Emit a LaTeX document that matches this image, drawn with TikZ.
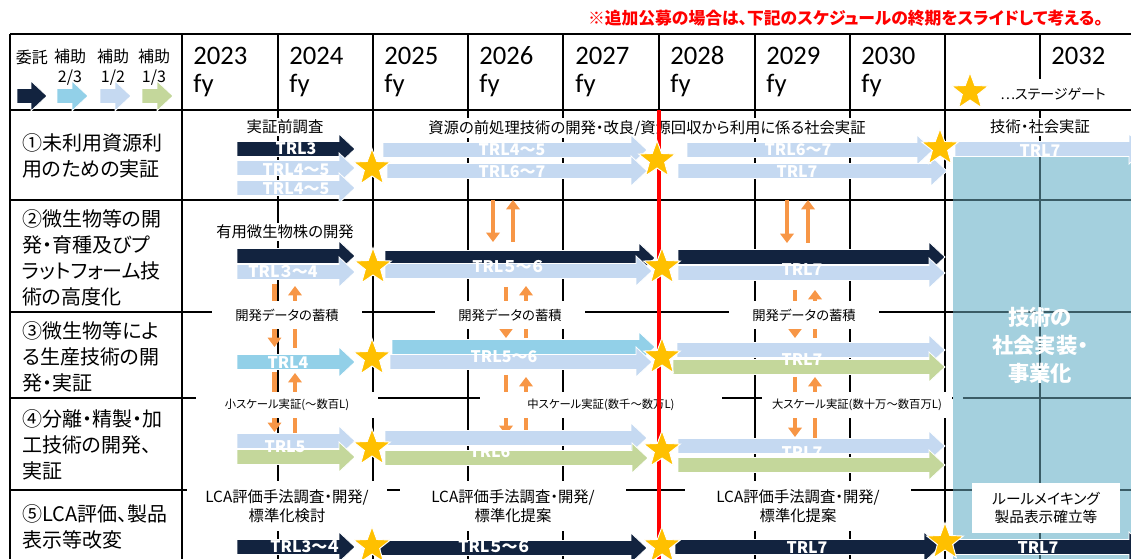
\documentclass[tikz,border=0pt]{standalone}
\usepackage{fontspec}
\setmainfont{Carlito}
\newfontfamily\jpfont[RawFeature=+palt]{Noto Sans CJK JP}
\usetikzlibrary{shapes.geometric,arrows.meta}

\definecolor{navy}{RGB}{18,35,63}
\definecolor{skyb}{RGB}{146,208,232}
\definecolor{paleb}{RGB}{197,217,241}
\definecolor{leaf}{RGB}{196,215,155}
\definecolor{tealbg}{RGB}{164,208,222}
\definecolor{tealline}{RGB}{58,92,102}
\definecolor{gold}{RGB}{255,192,0}
\definecolor{orng}{RGB}{247,150,70}
\definecolor{redline}{RGB}{255,0,0}

% block arrow: colour, start x, tip x, centre y
\newcommand{\barrow}[4]{%
  \fill[#1, draw=white, line width=0.6pt]
    (#2,#4-7.5) -- (#3-16,#4-7.5) -- (#3-16,#4-15) -- (#3,#4)
    -- (#3-16,#4+15) -- (#3-16,#4+7.5) -- (#2,#4+7.5) -- cycle;}

\begin{document}
\begin{tikzpicture}[x=0.75pt, y=-0.75pt,
  gridline/.style={line width=1.3pt},
  tealgrid/.style={line width=1.3pt, draw=tealline},
  lbl/.style={fill=white, inner sep=1.5pt, font=\jpfont\fontsize{11.5}{14}\selectfont},
  accum/.style={lbl, font=\jpfont\fontsize{10}{12}\selectfont, minimum width=112pt, minimum height=21pt},
  scaleup/.style={lbl, font=\jpfont\fontsize{8.5}{10}\selectfont, minimum height=19pt},
  lca/.style={lbl, align=center, font=\jpfont\fontsize{11.5}{14.5}\selectfont, minimum height=37.5pt},
  rowlbl/.style={anchor=west, align=left, inner sep=0pt, font=\jpfont\fontsize{15}{19.5}\selectfont},
  year/.style={anchor=base west, inner sep=0pt, font=\fontsize{20}{24}\selectfont},
  legend/.style={inner sep=0pt, align=center, font=\jpfont\fontsize{12}{15}\selectfont},
  trl/.style={inner sep=0pt, text=white, font=\jpfont\bfseries\fontsize{12}{14}\selectfont},
  gate/.style={star, star points=5, star point ratio=2.4, fill=gold, draw=white, line width=0.7pt, minimum size=29pt, inner sep=0pt},
  feed/.style={draw=orng, line width=3.6pt, -{Triangle[width=10pt,length=7pt]}}
]
\useasboundingbox (0,0) rectangle (1131,559);

% Note on top
\node[anchor=east, inner sep=0pt, text=redline, font=\jpfont\bfseries\fontsize{12.6}{14}\selectfont] (note) at (1103,18)
  {※追加公募の場合は、下記のスケジュールの終期をスライドして考える。};

% Drawing table frame and row lines
\draw[gridline] (10,34) -- (1131,34);
\draw[gridline] (10,110) -- (1131,110);
\foreach \y in {200,312,398,490}
  \draw[gridline] (10,\y) -- (1131,\y);
\draw[gridline] (10,34) -- (10,559);
\draw[gridline] (182,34) -- (182,559);
\foreach \x in {278,373,468,563,755,850,945,1040}
  \draw[gridline] (\x,34) -- (\x,559);
\draw[gridline] (659,34) -- (659,110);

% Drawing social implementation area
\fill[tealbg] (953,157) rectangle (1131,559);
\draw[tealgrid] (1040,157) -- (1040,559);
\draw[tealgrid] (953,200) -- (1131,200);
\draw[tealgrid] (953,312) -- (1131,312);
\draw[tealgrid] (963,398) -- (1131,398);
\draw[tealgrid] (953,490) -- (1131,490);

% Legend
\node[legend] (ltk) at (32,57) {委託};
\node[legend] (l23) at (70,67) {補助\\2/3};
\node[legend] (l12) at (113,67) {補助\\1/2};
\node[legend] (l13) at (154,67) {補助\\1/3};
\barrow{navy}{17}{47}{96}
\barrow{skyb}{57}{88}{96}
\barrow{paleb}{100}{131}{96}
\barrow{leaf}{142}{173}{96}

% Year headings
\foreach \x/\yr in {193/2023,289/2024,384/2025,479/2026,575/2027,670/2028,766/2029,861/2030,1051/2032}
  \node[year] (y\yr) at (\x,65) {\yr};
\foreach \x/\yr in {193/2023,289/2024,384/2025,479/2026,575/2027,670/2028,766/2029,861/2030}
  \node[year] (f\yr) at (\x,93) {fy};

% Stage gate legend
\node[fill=white, minimum width=100pt, minimum height=23pt, inner sep=0pt,
  font=\jpfont\fontsize{10.5}{12}\selectfont] (gkey) at (1053,94) {…ステージゲート};
\node[gate] (g0) at (970,92) {};

% Row headings
\node[rowlbl] (r1) at (22,156) {①未利用資源利\\用のための実証};
\node[rowlbl] (r2) at (22,258) {②微生物等の開\\発・育種及びプ\\ラットフォーム技\\術の高度化};
\node[rowlbl] (r3) at (22,357) {③微生物等によ\\る生産技術の開\\発・実証};
\node[rowlbl] (r4) at (22,445) {④分離・精製・加\\工技術の開発、\\実証};
\node[rowlbl] (r5) at (22,527) {⑤LCA評価、製品\\表示等改変};

% Orange feedback arrows
\draw[feed] (493,200) -- (493,242);
\draw[feed] (513,242) -- (513,200);
\draw[feed] (787,200) -- (787,243);
\draw[feed] (808,243) -- (808,200);
\draw[feed] (274.5,284) -- (274.5,347);
\draw[feed] (295,348) -- (295,286);
\draw[feed] (506,287) -- (506,338);
\draw[feed] (526,338) -- (526,286);
\draw[feed] (795,290) -- (795,338);
\draw[feed] (815,338) -- (815,290);
\draw[feed] (274.5,372) -- (274.5,432);
\draw[feed] (295,435) -- (295,373);
\draw[feed] (506,375) -- (506,435);
\draw[feed] (526,435) -- (526,377);
\draw[feed] (795,377) -- (795,437);
\draw[feed] (815,438) -- (815,377);

% Task labels
\node[lbl] (pre) at (285,127) {実証前調査};
\node[lbl] (res) at (647,128) {資源の前処理技術の開発・改良/資源回収から利用に係る社会実証};
\node[lbl] (soc) at (1040,127) {技術・社会実証};
\node[lbl] (mic) at (285,232) {有用微生物株の開発};
\node[accum] (acc1) at (287,315) {開発データの蓄積};
\node[accum] (acc2) at (510,315) {開発データの蓄積};
\node[accum] (acc3) at (804,315) {開発データの蓄積};
\node[scaleup, minimum width=136.5pt] (sml) at (287,405) {小スケール実証(～数百L)};
\node[scaleup, minimum width=181.5pt] (mdl) at (601,405) {中スケール実証(数千～数万L)};
\node[scaleup, minimum width=142pt] (lgl) at (857,405) {大スケール実証(数十万～数百万L)};
\node[lca, minimum width=150pt] (lca1) at (287,506) {LCA評価手法調査・開発/\\標準化検討};
\node[lca, minimum width=170pt] (lca2) at (513,506) {LCA評価手法調査・開発/\\標準化提案};
\node[lca, minimum width=170pt] (lca3) at (798,506) {LCA評価手法調査・開発/\\標準化提案};

% Drawing red deadline line
\draw[redline, line width=2.3pt] (659,110) -- (659,559);

% Drawing arrows row 1
\barrow{navy}{237}{355}{149}
\barrow{paleb}{237}{355}{168}
\barrow{paleb}{237}{355}{188}
\barrow{paleb}{383}{647}{150}
\barrow{paleb}{387}{647}{171}
\barrow{paleb}{687}{933}{150}
\barrow{paleb}{678}{947}{171}
\barrow{paleb}{955}{1145}{149}

% Drawing arrows row 2
\barrow{navy}{237}{355}{256}
\barrow{paleb}{237}{355}{272}
\barrow{navy}{385}{655}{258}
\barrow{paleb}{385}{652}{271}
\barrow{navy}{678}{945}{257}
\barrow{paleb}{678}{945}{273}

% Drawing arrows row 3
\barrow{skyb}{237}{355}{362}
\barrow{skyb}{392}{655}{347}
\barrow{paleb}{390}{652}{362}
\barrow{paleb}{677}{945}{350}
\barrow{leaf}{673}{945}{367}

% Drawing arrows row 4
\barrow{paleb}{237}{355}{441}
\barrow{leaf}{237}{355}{457}
\barrow{paleb}{385}{647}{438}
\barrow{leaf}{385}{648}{458}
\barrow{paleb}{678}{945}{446}
\barrow{leaf}{678}{945}{465}

% Drawing arrows row 5
\barrow{navy}{237}{355}{547}
\barrow{navy}{380}{647}{548}
\barrow{navy}{675}{940}{547}
\barrow{navy}{953}{1145}{547}

% TRL marks
\node[trl] (t11) at (296,149) {TRL3};
\node[trl] (t12) at (296,170) {TRL4～5};
\node[trl] (t13) at (296,189) {TRL4～5};
\node[trl] (t14) at (512,150) {TRL4～5};
\node[trl] (t15) at (512,172) {TRL6～7};
\node[trl] (t16) at (798,150) {TRL6～7};
\node[trl] (t17) at (797,172) {TRL7};
\node[trl] (t18) at (1040,151) {TRL7};
\node[trl] (t21) at (283,272) {TRL３～4};
\node[trl] (t22) at (508,267) {TRL５～６};
\node[trl] (t23) at (802,270) {TRL7};
\node[trl] (t31) at (288,363) {TRL4};
\node[trl] (t32) at (504,357) {TRL5～6};
\node[trl] (t33) at (802,360) {TRL7};
\node[trl] (t41) at (285,447) {TRL5};
\node[trl] (t42) at (490,452) {TRL6};
\node[trl] (t43) at (802,453) {TRL7};
\node[trl] (t51) at (305,547) {TRL3～４};
\node[trl] (t52) at (494,547) {TRL５～６};
\node[trl] (t53) at (807,548) {TRL7};
\node[trl] (t54) at (1038,548) {TRL7};

% Marking stage gates
\node[gate] (g11) at (372,168) {};
\node[gate] (g12) at (657,160) {};
\node[gate] (g13) at (940,148) {};
\node[gate] (g21) at (373,267) {};
\node[gate] (g22) at (662,267) {};
\node[gate] (g31) at (372,358) {};
\node[gate] (g32) at (662,357) {};
\node[gate] (g41) at (372,448) {};
\node[gate] (g42) at (662,450) {};
\node[gate] (g51) at (372,546) {};
\node[gate] (g52) at (662,546) {};
\node[gate] (g53) at (945,542) {};

% Social implementation texts
\node[align=center, inner sep=0pt, text=white, font=\jpfont\bfseries\fontsize{16}{21}\selectfont] (impl) at (1040,345)
  {技術の\\社会実装・\\事業化};
\node[fill=white, align=center, minimum width=111pt, minimum height=37.5pt, inner sep=0pt,
  font=\jpfont\fontsize{11}{14}\selectfont] (rule) at (1046,508) {ルールメイキング\\製品表示確立等};
\end{tikzpicture}
\end{document}
